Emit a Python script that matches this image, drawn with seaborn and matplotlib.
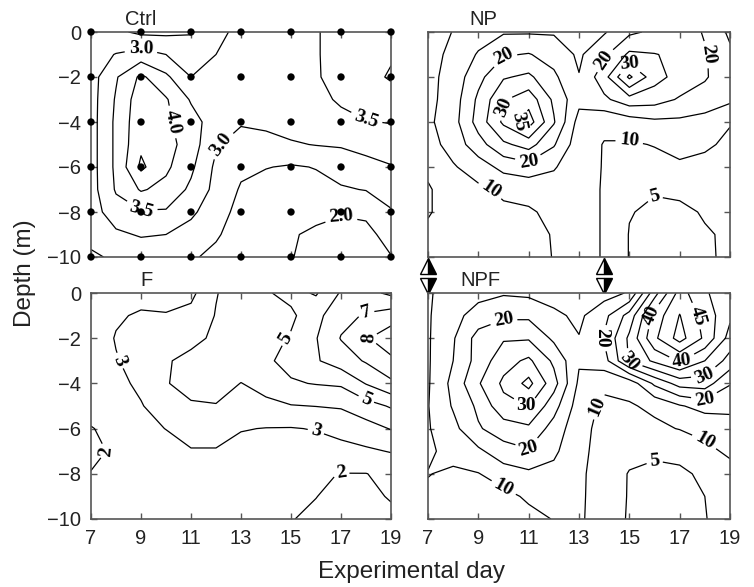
import numpy as np
import pandas as pd
import matplotlib
matplotlib.use("Agg")
import matplotlib.pyplot as plt
import seaborn as sns

# ===================== DATA =====================
days = [7, 8, 9, 10, 11, 12, 13, 14, 15, 16, 17, 18, 19]
depths = [0, -1, -2, -3, -4, -5, -6, -7, -8, -9, -10]

# sampling stations shown as dots in the Ctrl panel
station_days = [7, 9, 11, 13, 15, 17, 19]
station_depths = [0, -2, -4, -6, -8, -10]

# rows = depth 0..-10, cols = day 7..19
ctrl = [
    [2.75, 2.6, 2.4, 2.4, 2.45, 2.85, 3.15, 3.25, 3.35, 3.48, 3.6, 3.7, 3.8],
    [2.8, 3.02, 3.2, 3.0, 2.85, 3.0, 3.15, 3.3, 3.4, 3.47, 3.65, 3.8, 3.95],
    [2.8, 3.45, 4.1, 3.6, 3.0, 3.1, 3.2, 3.3, 3.4, 3.45, 3.7, 3.85, 4.05],
    [2.8, 3.55, 4.3, 4.05, 3.45, 3.2, 3.15, 3.25, 3.35, 3.4, 3.55, 3.7, 3.8],
    [2.8, 3.6, 4.35, 4.1, 3.7, 3.25, 3.05, 3.1, 3.2, 3.3, 3.4, 3.48, 3.52],
    [2.8, 3.6, 4.4, 4.2, 3.75, 3.05, 2.8, 2.85, 2.95, 3.02, 3.05, 3.15, 3.25],
    [2.8, 3.6, 4.6, 4.1, 3.6, 2.9, 2.6, 2.52, 2.45, 2.52, 2.7, 2.85, 2.97],
    [2.8, 3.55, 4.05, 3.85, 3.4, 2.85, 2.45, 2.3, 2.3, 2.35, 2.45, 2.52, 2.75],
    [2.75, 3.3, 3.45, 3.45, 3.1, 2.7, 2.35, 2.2, 2.1, 2.15, 2.05, 2.1, 2.45],
    [2.6, 2.9, 3.05, 3.0, 2.8, 2.55, 2.3, 2.15, 2.05, 1.9, 1.8, 1.85, 2.2],
    [2.45, 2.55, 2.65, 2.6, 2.55, 2.4, 2.25, 2.1, 2.02, 1.85, 1.7, 1.8, 1.98],
]

np_vals = [
    [8.5, 10.1, 12.5, 14.5, 14.5, 14.5, 13, 14.5, 19, 21, 23, 19.5, 14],
    [8.5, 11, 15.5, 19.5, 20.3, 18, 14.2, 19, 26, 25.2, 24, 20.5, 16],
    [8.5, 12, 18.5, 24.5, 26, 21, 15.2, 23, 36, 27, 23, 20.5, 17],
    [8.5, 12.5, 21, 29.5, 33, 24, 16.5, 19, 23, 22, 19.5, 18, 16],
    [9, 13, 22, 31, 37.5, 25.5, 13, 11, 12.5, 14, 14, 13, 10.3],
    [8, 12, 18, 24, 27, 20.5, 12, 9.8, 9.5, 10.2, 11, 10.8, 9],
    [6, 9.5, 12.5, 16.5, 18, 15.5, 11.5, 9.8, 8, 8.5, 9.5, 8.5, 7.5],
    [4.5, 7.5, 9, 11, 11.5, 12.5, 11, 9.8, 6, 5.3, 5.5, 6, 6.5],
    [4.6, 7, 8, 9, 9.5, 11, 11, 9.8, 5.2, 4.3, 4.5, 5.2, 5.5],
    [6, 7, 8, 8.5, 9, 10.2, 11, 9.8, 4.8, 4.2, 4.3, 4.8, 5.3],
    [7, 7.5, 8, 8.5, 9, 10.1, 11, 9.8, 4.8, 4.5, 4.3, 4.6, 5.5],
]

f_vals = [
    [2.4, 2.6, 2.7, 2.7, 2.75, 3.95, 4.5, 4.9, 5.3, 4.9, 6.1, 6.3, 5.8],
    [2.4, 2.9, 3.1, 3.05, 3.3, 4.05, 4.4, 4.6, 4.8, 5.7, 6.7, 7.1, 7.5],
    [2.5, 3.05, 3.3, 3.4, 3.7, 4.2, 4.4, 4.6, 5.1, 5.95, 7.05, 7.9, 8.6],
    [2.6, 2.95, 3.3, 3.9, 4.3, 4.5, 4.5, 4.85, 5.3, 5.9, 6.5, 7.1, 7.8],
    [2.6, 2.8, 3.15, 3.95, 4.3, 4.4, 3.98, 4.3, 4.9, 5.05, 5.15, 6.05, 6.8],
    [2.4, 2.6, 2.95, 3.4, 3.9, 3.95, 3.6, 3.8, 3.95, 4.02, 4.1, 4.6, 5.1],
    [1.95, 2.3, 2.7, 3.02, 3.3, 3.3, 3.05, 2.97, 2.95, 3.05, 3.3, 3.6, 4.05],
    [1.7, 2.2, 2.4, 2.6, 2.95, 2.95, 2.7, 2.6, 2.55, 2.6, 2.7, 2.85, 3.05],
    [2.05, 2.2, 2.3, 2.4, 2.5, 2.5, 2.4, 2.3, 2.2, 2.1, 1.98, 1.98, 2.25],
    [2.2, 2.2, 2.25, 2.3, 2.4, 2.4, 2.3, 2.2, 2.1, 2.01, 1.85, 1.85, 2.05],
    [2.3, 2.25, 2.25, 2.3, 2.35, 2.35, 2.25, 2.1, 2.02, 1.9, 1.75, 1.7, 1.85],
]

npf_vals = [
    [9.5, 12, 13.5, 14.5, 14, 13, 12, 13, 15.5, 33, 47, 41, 35],
    [9.5, 13.5, 17, 19, 19, 16, 14, 18.5, 27, 42, 50.2, 43, 36],
    [9.5, 14.5, 22, 24.5, 24.5, 19, 15.2, 20.5, 31, 44, 52, 44, 33],
    [9.5, 15, 22, 28, 31, 24, 15.6, 18, 30.5, 36, 40.5, 35, 28],
    [9.5, 16.5, 24.5, 31, 36.5, 27, 14, 11, 12, 21, 27, 27.5, 20.3],
    [9.8, 15.5, 21, 28.5, 30.2, 22, 12.5, 9, 9.5, 11, 14.5, 17, 16.5],
    [9.6, 13.5, 19.5, 22.5, 24, 18, 11.5, 8.5, 8, 9, 10.2, 10.8, 12.5],
    [9.5, 11, 14, 18, 19.5, 16, 11, 8.5, 6.5, 5.5, 5.8, 9.3, 10.5],
    [10.1, 9.5, 9.8, 12.5, 14, 13.5, 10.8, 8, 4.7, 4.3, 4.5, 5.5, 9],
    [9.5, 9.3, 9.0, 8.5, 10.8, 11.5, 10.6, 8.3, 4.6, 4.0, 4.2, 5.0, 8],
    [9.3, 9, 8.8, 8.2, 8.5, 10.2, 10.5, 8.3, 4.4, 3.8, 4.0, 4.8, 7],
]

ctrl_levels = [2.0, 2.5, 3.0, 3.5, 4.0, 4.5]
np_levels = [5, 10, 15, 20, 25, 30, 35]
f_levels = [2, 3, 4, 5, 6, 7, 8]
npf_levels = [5, 10, 15, 20, 25, 30, 35, 40, 45, 50]

# contour labels: (level, day, depth)
ctrl_labels = [(3.0, 8.9, -0.9), (4.0, 10.3, -4.3), (3.5, 8.9, -7.9),
               (3.0, 12.5, -4.6), (3.5, 18.0, -4.0), (2.0, 17.2, -8.2)]
np_labels = [(20, 9.8, -1.4), (30, 10.1, -3.2), (35, 10.85, -3.9),
             (20, 11.3, -5.6), (10, 9.6, -6.5), (10, 14.8, -4.8),
             (5, 15.9, -7.4), (20, 13.9, -1.5), (30, 15.3, -1.5),
             (20, 18.0, -1.4)]
f_labels = [(3, 8.0, -3.2), (2, 7.4, -6.7), (5, 14.9, -2.0), (7, 18.0, -0.9),
            (8, 18.2, -2.2), (5, 17.6, -4.6), (3, 15.9, -6.2), (2, 17.0, -8.0)]
npf_labels = [(20, 10.4, -1.3), (30, 10.6, -5.0), (20, 10.9, -6.9),
              (10, 10.2, -8.6), (10, 13.5, -5.4), (20, 13.8, -1.9),
              (40, 15.7, -1.2), (45, 17.7, -1.3), (30, 15.0, -3.0),
              (40, 17.1, -3.0), (30, 17.9, -3.7), (20, 17.9, -4.7),
              (10, 17.6, -6.5), (5, 16.1, -7.4)]

# ===================== STYLE =====================
sns.set_style("ticks")
plt.rcParams['font.family'] = ['Liberation Sans', 'DejaVu Sans']
frame_col = '#555555'
text_col = '#222222'

fig = plt.figure(figsize=(7.54, 5.87), dpi=100)
W, H = 754, 587


def add_axes(left, top, right, bottom):
    return fig.add_axes([left / W, 1 - bottom / H, (right - left) / W, (bottom - top) / H])


ax_ctrl = add_axes(91, 32, 391, 257)
ax_np = add_axes(428, 32, 730, 257)
ax_f = add_axes(91, 293, 391, 519)
ax_npf = add_axes(428, 293, 730, 519)


def snap_to_level(ax, cs, level, x, y):
    # nearest vertex of the wanted level, so clabel picks that line
    idx = list(cs.levels).index(level)
    target = ax.transData.transform((x, y))
    best, best_d = (x, y), np.inf
    for seg in cs.allsegs[idx]:
        if len(seg) == 0:
            continue
        pix = ax.transData.transform(seg)
        d = np.hypot(pix[:, 0] - target[0], pix[:, 1] - target[1])
        i = np.argmin(d)
        if d[i] < best_d:
            best_d, best = d[i], tuple(seg[i])
    return best


def draw_panel(ax, values, levels, labels, fmt, name, name_x, show_x, show_y):
    z = np.array(values, dtype=float)
    ax.set_xlim(7, 19)
    ax.set_ylim(-10, 0)
    cs = ax.contour(days, depths, z, levels=levels, colors='black', linewidths=0.9)
    pts = [snap_to_level(ax, cs, lev, x, y) for lev, x, y in labels]
    texts = cs.clabel(manual=pts, inline=True, inline_spacing=3, fmt=fmt, fontsize=14)
    for t in texts:
        t.set_fontfamily('Liberation Serif')
        t.set_fontweight('bold')
    ax.set_xticks(range(7, 20, 2))
    ax.set_yticks(range(-10, 1, 2))
    ax.tick_params(direction='in', length=4, width=1, colors=frame_col,
                   top=True, right=True, labelsize=14.5, labelcolor=text_col, pad=7)
    if not show_x:
        ax.set_xticklabels([])
    if not show_y:
        ax.set_yticklabels([])
    for sp in ax.spines.values():
        sp.set_color(frame_col)
        sp.set_linewidth(1.2)
    ax.text(name_x, 0.3, name, ha='center', va='baseline', fontsize=14.5, color=text_col)


draw_panel(ax_ctrl, ctrl, ctrl_levels, ctrl_labels, '%.1f', 'Ctrl', 9.0, False, True)
draw_panel(ax_np, np_vals, np_levels, np_labels, '%d', 'NP', 9.2, False, False)
draw_panel(ax_f, f_vals, f_levels, f_labels, '%d', 'F', 9.2, True, True)
draw_panel(ax_npf, npf_vals, npf_levels, npf_labels, '%d', 'NPF', 9.1, True, False)

# sampling stations in Ctrl
stations = pd.DataFrame([(d, z) for d in station_days for z in station_depths],
                        columns=['day', 'depth'])
sns.scatterplot(data=stations, x='day', y='depth', color='black', s=28,
                edgecolor='none', ax=ax_ctrl, clip_on=False, legend=False, zorder=5)
ax_ctrl.set_xlabel('')
ax_ctrl.set_ylabel('')

# half-filled triangles between NP and NPF (nutrient additions)
for day in [7, 14]:
    for mk, yy in [('^', -10.38), ('v', -11.27)]:
        ax_np.plot(day, yy, marker=mk, ms=12, ls='none', fillstyle='right',
                   markerfacecolor='black', markerfacecoloralt='white',
                   markeredgecolor='black', mew=1.0, clip_on=False, zorder=6)

fig.text(25 / W, 1 - 273 / H, 'Depth (m)', rotation=90, ha='center', va='center',
         fontsize=17.5, color=text_col)
fig.text(411 / W, 1 - 578 / H, 'Experimental day', ha='center', va='baseline',
         fontsize=17.5, color=text_col)

fig.savefig('out.png', dpi=100)
